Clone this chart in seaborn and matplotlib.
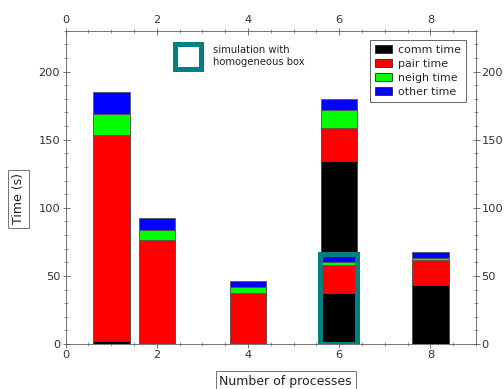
import numpy as np
import pandas as pd
import matplotlib
matplotlib.use("Agg")
import matplotlib.pyplot as plt
import seaborn as sns
from matplotlib.patches import Patch, Rectangle
from matplotlib.ticker import MultipleLocator

# ---- data ----
procs = [1, 2, 4, 6, 8]
comm = [2.5, 1.0, 1.0, 134.0, 43.4]
pair = [151.0, 75.0, 36.5, 24.8, 18.2]
neigh = [15.0, 8.0, 4.2, 13.2, 1.9]
other = [16.5, 8.5, 4.7, 7.6, 4.0]

homog_procs = [6]
homog_comm = [37.3]
homog_pair = [20.6]
homog_neigh = [2.2]
homog_other = [4.7]

series_labels = ["comm time", "pair time", "neigh time", "other time"]
series_colors = ["#000000", "#ff0000", "#00ff00", "#0000ff"]
highlight_color = "#008080"
highlight_text = "simulation with\nhomogeneous box"
xlabel = "Number of processes"
ylabel = "Time (s)"

sns.set_style("ticks")
plt.rcParams["font.family"] = ["DejaVu Sans"]

fig = plt.figure(figsize=(7, 389 / 72), dpi=72)
ax = fig.add_axes([65.7 / 504, 1 - 344 / 389, 410.3 / 504, 313.3 / 389])


def draw_stack(ax, x, segs):
    cum = np.cumsum(np.array(segs, dtype=float), axis=0)
    for i in range(len(segs) - 1, -1, -1):
        df = pd.DataFrame({"procs": x, "val": cum[i]})
        sns.barplot(data=df, x="procs", y="val", native_scale=True, orient="x",
                    color=series_colors[i], saturation=1, width=0.8,
                    edgecolor="#555555", linewidth=0.8, errorbar=None, ax=ax)
    return cum[-1]


draw_stack(ax, procs, [comm, pair, neigh, other])
htot = draw_stack(ax, homog_procs, [homog_comm, homog_pair, homog_neigh, homog_other])

# teal highlight around the homogeneous-box bar
for xv, tv in zip(homog_procs, htot):
    ax.add_patch(Rectangle((xv - 0.42, 0), 0.8, tv + 1.5, fill=False,
                           edgecolor=highlight_color, linewidth=5, zorder=5))

# key for the highlight
ax.add_patch(Rectangle((2.4, 202), 0.56, 18.5, fill=False, edgecolor=highlight_color,
                       linewidth=5, clip_on=False, zorder=5))
ax.text(3.23, 211.5, highlight_text, fontsize=10, color="#222222",
        va="center", ha="left", linespacing=1.2)

ax.set_xlim(0, 9)
ax.set_ylim(0, 230)
ax.xaxis.set_major_locator(MultipleLocator(2))
ax.xaxis.set_minor_locator(MultipleLocator(0.5))
ax.yaxis.set_major_locator(MultipleLocator(50))
ax.yaxis.set_minor_locator(MultipleLocator(10))
ax.xaxis.set_major_formatter(matplotlib.ticker.FormatStrFormatter("%d"))

for sp in ax.spines.values():
    sp.set_visible(True)
    sp.set_color("#555555")
    sp.set_linewidth(0.8)

ax.tick_params(which="both", top=True, right=True, labeltop=True, labelright=True,
               direction="inout", colors="#555555", labelcolor="#333333")
ax.tick_params(which="major", length=7, width=0.8, labelsize=11.4, pad=2)
ax.tick_params(which="minor", length=4, width=0.6)

box = dict(boxstyle="square,pad=0.3", fc="white", ec="#555555", lw=0.8)
ax.set_xlabel(xlabel, fontsize=12.5, color="#222222", bbox=box)
ax.set_ylabel(ylabel, fontsize=12.5, color="#222222", bbox=box)
ax.xaxis.set_label_coords(0.536, -0.12)
ax.yaxis.set_label_coords(-0.115, 0.463)
ax.xaxis.label.set_va("center")
ax.yaxis.label.set_va("center")

handles = [Patch(facecolor=c, edgecolor="#222222", linewidth=0.8) for c in series_colors]
leg = ax.legend(handles, series_labels, loc="upper right", bbox_to_anchor=(0.975, 0.97),
                borderaxespad=0, fontsize=11, frameon=True, fancybox=False,
                framealpha=1, edgecolor="#444444", handlelength=1.6, handleheight=0.7,
                labelspacing=0.35, handletextpad=0.5, borderpad=0.45)
leg.get_frame().set_linewidth(0.8)

fig.savefig("out.png", dpi=72)
